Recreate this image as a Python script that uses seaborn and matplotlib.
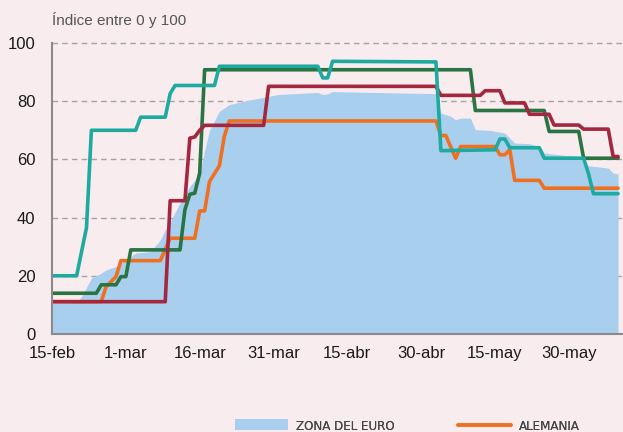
import pandas as pd
import matplotlib
matplotlib.use('Agg')
import matplotlib.pyplot as plt
import seaborn as sns

# Indice de restricciones (0-100), vertices
euro_fechas = ['2020-02-15', '2020-02-20', '2020-02-21', '2020-02-23', '2020-02-25', '2020-02-26',
               '2020-02-28', '2020-03-01', '2020-03-03', '2020-03-06', '2020-03-08', '2020-03-09',
               '2020-03-10', '2020-03-12', '2020-03-14', '2020-03-16', '2020-03-17', '2020-03-18',
               '2020-03-20', '2020-03-22', '2020-03-25', '2020-03-28', '2020-04-01', '2020-04-09',
               '2020-04-10', '2020-04-11', '2020-04-12', '2020-04-20', '2020-05-03', '2020-05-04',
               '2020-05-06', '2020-05-07', '2020-05-08', '2020-05-10', '2020-05-11', '2020-05-14',
               '2020-05-17', '2020-05-19', '2020-05-22', '2020-05-24', '2020-05-25', '2020-05-28',
               '2020-06-01', '2020-06-03', '2020-06-07', '2020-06-08', '2020-06-09']
euro_valores = [10.6, 10.8, 12.8, 19.2, 20.9, 22.0,
                23.2, 25.5, 27.8, 28.3, 32.3, 35.8,
                38.6, 45.0, 50.7, 55.0, 63.0, 70.0,
                76.5, 78.8, 80.0, 81.0, 82.3, 83.0,
                82.3, 82.5, 83.3, 83.0, 82.6, 75.9,
                74.8, 73.6, 74.2, 74.2, 70.2, 70.0,
                69.0, 65.6, 65.4, 64.4, 62.2, 61.6,
                61.0, 57.8, 57.0, 55.3, 55.0]

alemania_fechas = ['2020-02-15', '2020-02-25', '2020-02-26', '2020-02-28', '2020-02-29', '2020-03-08',
                   '2020-03-10', '2020-03-15', '2020-03-16', '2020-03-17', '2020-03-18', '2020-03-20',
                   '2020-03-21', '2020-03-22', '2020-05-03', '2020-05-04', '2020-05-05', '2020-05-07',
                   '2020-05-08', '2020-05-15', '2020-05-16', '2020-05-17', '2020-05-18', '2020-05-19',
                   '2020-05-24', '2020-05-25', '2020-06-09']
alemania_valores = [11.1, 11.1, 16.3, 19.7, 25.2, 25.2,
                    32.9, 32.9, 42.3, 42.3, 52.4, 57.8,
                    67.9, 73.2, 73.2, 68.2, 68.2, 60.4,
                    64.4, 64.4, 61.6, 61.6, 63.3, 52.8,
                    52.8, 50.1, 50.1]

espana_fechas = ['2020-02-15', '2020-02-24', '2020-02-25', '2020-02-28', '2020-02-29', '2020-03-01',
                 '2020-03-02', '2020-03-12', '2020-03-13', '2020-03-14', '2020-03-15', '2020-03-16',
                 '2020-03-17', '2020-05-10', '2020-05-11', '2020-05-25', '2020-05-26', '2020-06-01',
                 '2020-06-02', '2020-06-09']
espana_valores = [14.0, 14.0, 16.9, 16.9, 19.7, 19.7,
                  28.9, 28.9, 42.7, 48.0, 48.4, 55.3,
                  90.8, 90.8, 76.8, 76.8, 69.6, 69.6,
                  60.4, 60.4]

francia_fechas = ['2020-02-15', '2020-03-09', '2020-03-10', '2020-03-13', '2020-03-14', '2020-03-15',
                  '2020-03-16', '2020-03-17', '2020-03-29', '2020-03-30', '2020-05-03', '2020-05-04',
                  '2020-05-12', '2020-05-13', '2020-05-16', '2020-05-17', '2020-05-21', '2020-05-22',
                  '2020-05-26', '2020-05-27', '2020-06-01', '2020-06-02', '2020-06-07', '2020-06-08',
                  '2020-06-09']
francia_valores = [11.1, 11.1, 45.8, 45.8, 67.3, 67.7,
                   70.0, 71.7, 71.7, 85.1, 85.1, 82.0,
                   82.0, 83.6, 83.6, 79.4, 79.4, 75.5,
                   75.5, 71.8, 71.8, 70.4, 70.4, 61.0,
                   61.0]

italia_fechas = ['2020-02-15', '2020-02-20', '2020-02-22', '2020-02-23', '2020-03-03', '2020-03-04',
                 '2020-03-09', '2020-03-10', '2020-03-11', '2020-03-19', '2020-03-20', '2020-04-09',
                 '2020-04-10', '2020-04-11', '2020-04-12', '2020-05-03', '2020-05-04', '2020-05-15',
                 '2020-05-16', '2020-05-17', '2020-05-18', '2020-05-24', '2020-05-25', '2020-06-02',
                 '2020-06-03', '2020-06-04', '2020-06-09']
italia_valores = [20.0, 20.0, 36.5, 70.0, 70.0, 74.5,
                  74.5, 82.6, 85.4, 85.4, 92.0, 92.0,
                  88.0, 88.0, 93.7, 93.5, 63.0, 63.3,
                  67.0, 67.0, 64.0, 64.0, 60.4, 60.4,
                  55.0, 48.2, 48.2]

tick_fechas = ['2020-02-15', '2020-03-01', '2020-03-16', '2020-03-31', '2020-04-15',
               '2020-04-30', '2020-05-15', '2020-05-30']
tick_etiquetas = ['15-feb', '1-mar', '16-mar', '31-mar', '15-abr', '30-abr', '15-may', '30-may']

colores = {'ALEMANIA': '#f07022', 'ESPAÑA': '#2a7443', 'FRANCIA': '#a3283f', 'ITALIA': '#1eaa9e'}

partes = []
for pais, f, v in [('ALEMANIA', alemania_fechas, alemania_valores),
                   ('ESPAÑA', espana_fechas, espana_valores),
                   ('FRANCIA', francia_fechas, francia_valores),
                   ('ITALIA', italia_fechas, italia_valores)]:
    partes.append(pd.DataFrame({'fecha': pd.to_datetime(f), 'valor': v, 'pais': pais}))
df = pd.concat(partes, ignore_index=True)

sns.set_style('white')
fondo = '#f8ecee'
plt.rcParams['font.family'] = ['Liberation Sans', 'DejaVu Sans']

fig = plt.figure(figsize=(6.23, 4.32), dpi=100, facecolor=fondo)
ax = fig.add_axes([0.0835, 0.2269, 0.9165, 0.6736])
ax.set_facecolor(fondo)

# lineas de referencia por detras del area
for v in [20, 40, 60, 80, 100]:
    ax.axhline(v, color='#a3a3a3', lw=1, ls=(0, (4, 3)), zorder=0.5, clip_on=False)

area = ax.fill_between(pd.to_datetime(euro_fechas), euro_valores, 0,
                       color='#a8cfee', lw=0, label='ZONA DEL EURO', zorder=1)
n_antes = len(ax.get_lines())
sns.lineplot(data=df, x='fecha', y='valor', hue='pais', palette=colores,
             hue_order=['ALEMANIA', 'ESPAÑA', 'FRANCIA', 'ITALIA'],
             lw=2.6, ax=ax, legend=False, zorder=3)
linea_alemania = ax.get_lines()[n_antes]

ax.set_ylim(0, 100)
ax.set_xlim(pd.Timestamp('2020-02-15'), pd.Timestamp('2020-06-10'))
ax.set_yticks([0, 20, 40, 60, 80, 100])
ax.set_xticks(pd.to_datetime(tick_fechas))
ax.set_xticklabels(tick_etiquetas)
ax.set_xlabel('')
ax.set_ylabel('')

for s in ['top', 'right']:
    ax.spines[s].set_visible(False)
for s in ['left', 'bottom']:
    ax.spines[s].set_color('#8a8a8e')
    ax.spines[s].set_linewidth(1.5)
    ax.spines[s].set_zorder(4)

ax.tick_params(axis='y', length=0, pad=12, labelsize=12, labelcolor='#1a1a1a')
ax.tick_params(axis='x', direction='in', length=5, width=1.2, color='#8a8a8e',
               pad=9, labelsize=12, labelcolor='#1a1a1a')

fig.text(52 / 623, 1 - 20 / 432, 'Índice entre 0 y 100', fontsize=11,
         color='#555555', va='center', ha='left')

# leyenda (cortada en la parte inferior, como en el original)
fuente_ley = {'family': 'DejaVu Sans', 'stretch': 'condensed', 'size': 9.5}
for h, lab, x0 in [(area, 'ZONA DEL EURO', 235), (linea_alemania, 'ALEMANIA', 458)]:
    leg = fig.legend(handles=[h], labels=[lab], loc='center left',
                     bbox_to_anchor=(x0 / 623, 1 - 426 / 432), frameon=False,
                     borderpad=0, borderaxespad=0, handlelength=4.0, handleheight=0.9,
                     handletextpad=0.6, prop=fuente_ley, labelcolor='#444444')
    fig.add_artist(leg)

fig.savefig('out.png', dpi=100, facecolor=fondo)
